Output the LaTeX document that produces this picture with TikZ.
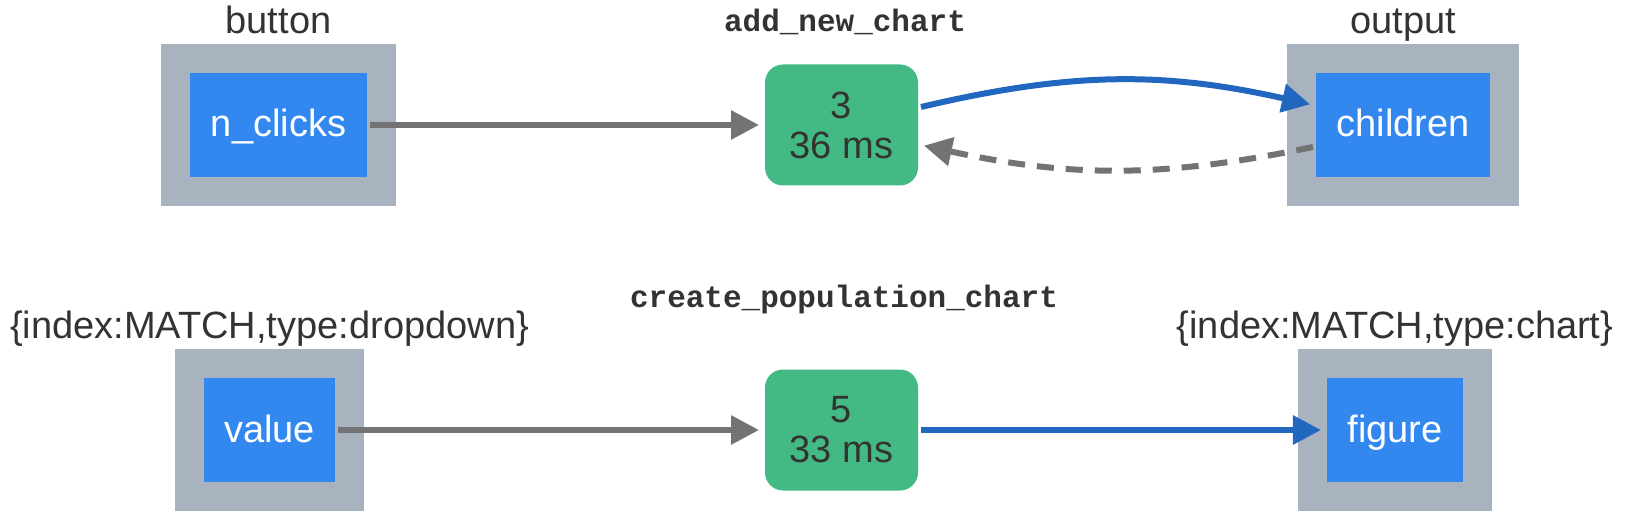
\documentclass[tikz,border=0pt]{standalone}
\usepackage{fontspec}
\setmainfont{Liberation Sans}
\setmonofont{Liberation Mono}
\usetikzlibrary{arrows.meta,fit,backgrounds,positioning}

\definecolor{propblue}{HTML}{3388F0}
\definecolor{groupgrey}{HTML}{A9B3BF}
\definecolor{cbgreen}{HTML}{43BA84}
\definecolor{edgegrey}{HTML}{737373}
\definecolor{edgeblue}{HTML}{2167C0}
\definecolor{textgrey}{HTML}{333333}

\tikzset{
  % ----- the boxes
  prop/.style = {
    rectangle, fill=propblue, text=white,
    font=\fontsize{38}{40}\selectfont,
    inner xsep=20.5pt, inner ysep=0pt, minimum height=104pt,
    text height=31pt, text depth=7pt
  },
  group/.style = {rectangle, fill=groupgrey, inner sep=26pt},
  callback/.style = {
    rectangle, rounded corners=18pt, fill=cbgreen, text=textgrey,
    font=\fontsize{38}{40}\selectfont, align=center,
    minimum width=153pt, minimum height=121pt
  },
  compname/.style = {text=textgrey, font=\fontsize{38}{40}\selectfont, anchor=base, inner sep=0pt},
  cbname/.style = {text=textgrey, font=\ttfamily\bfseries\fontsize{31}{31}\selectfont, anchor=base, inner sep=0pt},
  % ----- the edges
  inedge/.style = {->, draw=edgegrey},
  outedge/.style = {->, draw=edgeblue},
  stateedge/.style = {->, draw=edgegrey, dash pattern=on 17pt off 12pt}
}

\begin{document}
\begin{tikzpicture}[
                x = 1pt, y = -1pt, % pixel grid of the layout
                > = {Triangle[length=28pt, width=28pt]}, % arrow head style
                shorten > = 3pt, % don't touch arrow head to node
                line width = 6pt % line style
            ]
        \useasboundingbox (0,0) rectangle (1637,521);

        % top row
        \node[prop] (nclicks) at (278.5,125) {n\_clicks};
        \node[callback] (addchart) at (841.5,125) {3\\36 ms};
        \node[prop] (children) at (1403,125) {children};

        % bottom row
        \node[prop] (value) at (269.5,430) {value};
        \node[callback] (popchart) at (841.5,430) {5\\33 ms};
        \node[prop] (figure) at (1395,430) {figure};

        % components behind the properties
        \begin{scope}[on background layer]
            \fill[white] (0,0) rectangle (1637,521);
            \node[group, fit=(nclicks)] (button) {};
            \node[group, fit=(children)] (output) {};
            \node[group, fit=(value)] (dropdown) {};
            \node[group, fit=(figure)] (chart) {};
        \end{scope}

        % names
        \node[compname] (button-name) at ([yshift=10pt]button.north) {button};
        \node[compname] (output-name) at ([yshift=10pt]output.north) {output};
        \node[compname] (dropdown-name) at ([yshift=10pt]dropdown.north) {\{index:MATCH,type:dropdown\}};
        \node[compname] (chart-name) at ([yshift=10pt]chart.north) {\{index:MATCH,type:chart\}};
        \node[cbname] (addchart-name) at (845,32) {add\_new\_chart};
        \node[cbname] (popchart-name) at (844,307) {create\_population\_chart};

        % connect
        \draw[inedge] (nclicks) -- (addchart);
        \draw[outedge] ([yshift=18pt]addchart.east) to[bend left=13] ([yshift=20pt]children.west);
        \draw[stateedge] ([yshift=-22pt]children.west) to[bend left=12] ([yshift=-20pt]addchart.east);
        \draw[inedge] (value) -- (popchart);
        \draw[outedge] (popchart) -- (figure);
    \end{tikzpicture}
\end{document}
